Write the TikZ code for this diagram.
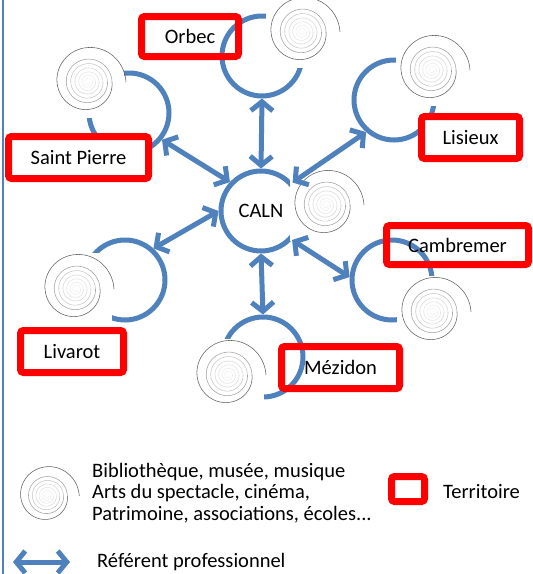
\documentclass[tikz,border=0pt]{standalone}
\usepackage{fontspec}
\setmainfont{Carlito}
\usetikzlibrary{arrows.meta}
\usetikzlibrary{positioning}
\definecolor{bleu}{RGB}{79,129,189}

\begin{document}
\begin{tikzpicture}[x=1pt,y=-1pt]
        % Define styles for shapes
        \tikzset{
            ronde/.style={draw=bleu, circle, line width=5pt, minimum size=80pt, inner sep=0pt, font=\fontsize{20.5}{22}\selectfont},
            territoire/.style={draw=red, line width=7pt, rounded corners=3pt, inner sep=0pt, font=\fontsize{20.5}{22}\selectfont},
            referent/.style={draw=bleu, line width=5pt, {Straight Barb[length=9pt,width=22pt]}-{Straight Barb[length=9pt,width=22pt]}},
            legende/.style={anchor=west, align=left, inner sep=0pt, font=\fontsize{20.5}{21.5}\selectfont},
            pics/spirale/.style={code={
                \fill[white] (-36,-36) rectangle (36,36);
                \foreach \ra/\rb/\c in {38/24/62, 24/19.5/36, 19.5/15/22, 15/11/15, 11/7.5/10, 7.5/4.5/7, 4.5/2/5}
                    \draw[black!\c, line width=0.55pt] plot[domain=0:360, samples=72, smooth]
                        ({(\ra+(\rb-\ra)*\x/360)*cos(\x)}, {-(\ra+(\rb-\ra)*\x/360)*sin(\x)});
            }}
        }
        \useasboundingbox (0,0) rectangle (533,574);
        \draw[bleu, line width=1.2pt] (3,0) -- (3,574);

        % Draw circles
        \node[ronde] (caln) at (261,211) {CALN};
        \node[ronde] (orbec) at (262,56) {};
        \node[ronde] (stpierre) at (129,113) {};
        \node[ronde] (lisieux) at (394,100) {};
        \node[ronde] (cambremer) at (392,280) {};
        \node[ronde] (mezidon) at (263,357) {};
        \node[ronde] (livarot) at (125,280) {};

        % Draw spirals
        \pic at (302,32) {spirale};
        \pic at (88,82) {spirale};
        \pic at (432,70) {spirale};
        \pic at (326,205) {spirale};
        \pic at (433,312) {spirale};
        \pic at (76,289) {spirale};
        \pic at (228,375) {spirale};

        % Draw arrows
        \draw[referent] (orbec.south) -- (caln.north);
        \draw[referent] (stpierre.-39) -- (caln.137);
        \draw[referent] (lisieux.229) -- (caln.42);
        \draw[referent] (cambremer.176) -- (caln.-43);
        \draw[referent] (mezidon.north) -- (caln.south);
        \draw[referent] (livarot.48) -- (caln.180);

        % Territories
        \node[territoire, minimum width=97pt, minimum height=40pt] (t-orbec) at (190,36.5) {Orbec};
        \node[territoire, fill=white, minimum width=140pt, minimum height=42pt] (t-stpierre) at (78.5,157.5) {Saint Pierre};
        \node[territoire, fill=white, minimum width=98pt, minimum height=42pt] (t-lisieux) at (470.5,137.5) {Lisieux};
        \node[territoire, minimum width=142pt, minimum height=39pt] (t-cambremer) at (457.5,245) {Cambremer};
        \node[territoire, minimum width=118pt, minimum height=42pt] (t-mezidon) at (340.5,367.5) {Mézidon};
        \node[territoire, minimum width=103pt, minimum height=42pt] (t-livarot) at (72,351.5) {Livarot};

        % Legend
        \pic[scale=0.85] at (47,496) {spirale};
        \node[legende] (l-lieux) at (92,493) {Bibliothèque, musée, musique\\Arts du spectacle, cinéma,\\Patrimoine, associations, écoles...};
        \node[territoire, minimum width=33pt, minimum height=25pt] (l-territoire) at (408,489) {};
        \node[legende] (l-texte) at (443,492) {Territoire};
        \coordinate (l-a) at (13,562);
        \coordinate (l-b) at (70,562);
        \draw[referent] (l-a) -- (l-b);
        \node[legende] (l-referent) at (97,562) {Référent professionnel};
    \end{tikzpicture}
\end{document}
